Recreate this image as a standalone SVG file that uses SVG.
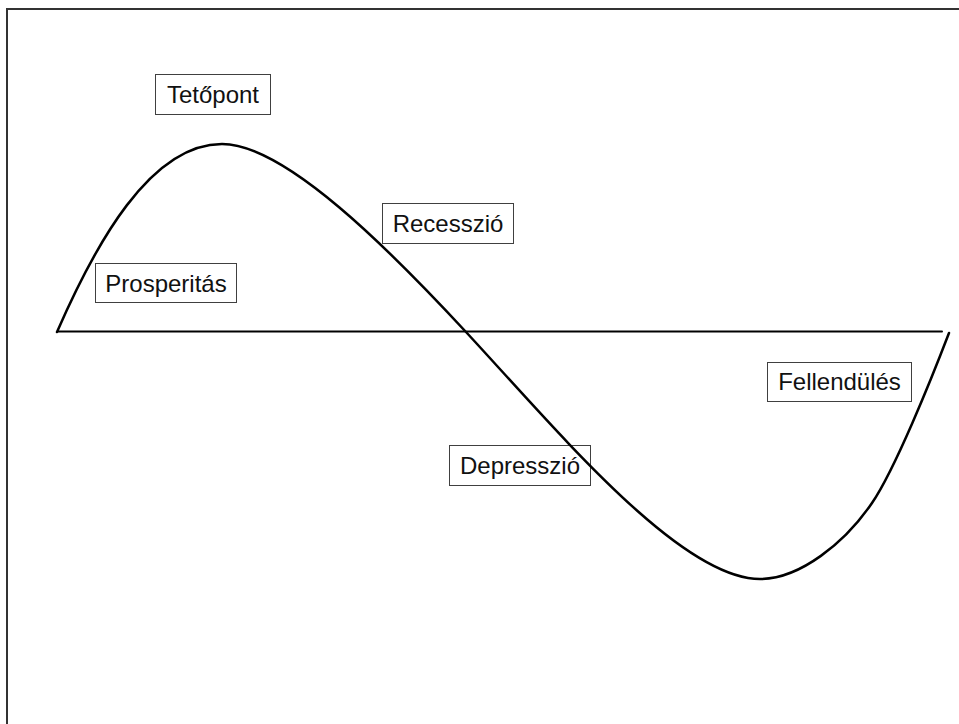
<svg xmlns="http://www.w3.org/2000/svg" width="959" height="724" viewBox="0 0 959 724">
<style>
.box{fill:none;stroke:#404040;stroke-width:1}
.lbl{font-family:"Liberation Sans",Arial,sans-serif;font-size:24px;fill:#111;text-anchor:middle}
.line{fill:none;stroke:#000;stroke-linecap:round}
</style>
<rect width="959" height="724" fill="#fff"/>
<path d="M7,724 V9 H959" fill="none" stroke="#333" stroke-width="2"/>
<g id="tetopont"><rect class="box" x="155.5" y="74.5" width="115" height="40"/><text class="lbl" x="213" y="103">Tetőpont</text></g>
<g id="prosperitas"><rect class="box" x="95.5" y="263.5" width="141" height="39"/><text class="lbl" x="166" y="292">Prosperitás</text></g>
<g id="recesszio"><rect class="box" x="382.5" y="203.5" width="131" height="40"/><text class="lbl" x="448" y="232">Recesszió</text></g>
<g id="depresszio"><rect class="box" x="449.5" y="445.5" width="141" height="40"/><text class="lbl" x="520" y="474">Depresszió</text></g>
<g id="fellendules"><rect class="box" x="767.5" y="362.5" width="144" height="39"/><text class="lbl" x="839.5" y="390">Fellendülés</text></g>
<g id="connectors">
<line class="line" x1="58" y1="331.5" x2="942" y2="331.5" stroke-width="2"/>
<path class="line" stroke-width="2.5" d="M57,332 C95,245 150,144 222,144 C285,144 390,250 466,332 C556,429 680,579 760,579 C800,579 845,542.7 872,503 C895,469.2 931,380 949,333"/>
</g>
</svg>
